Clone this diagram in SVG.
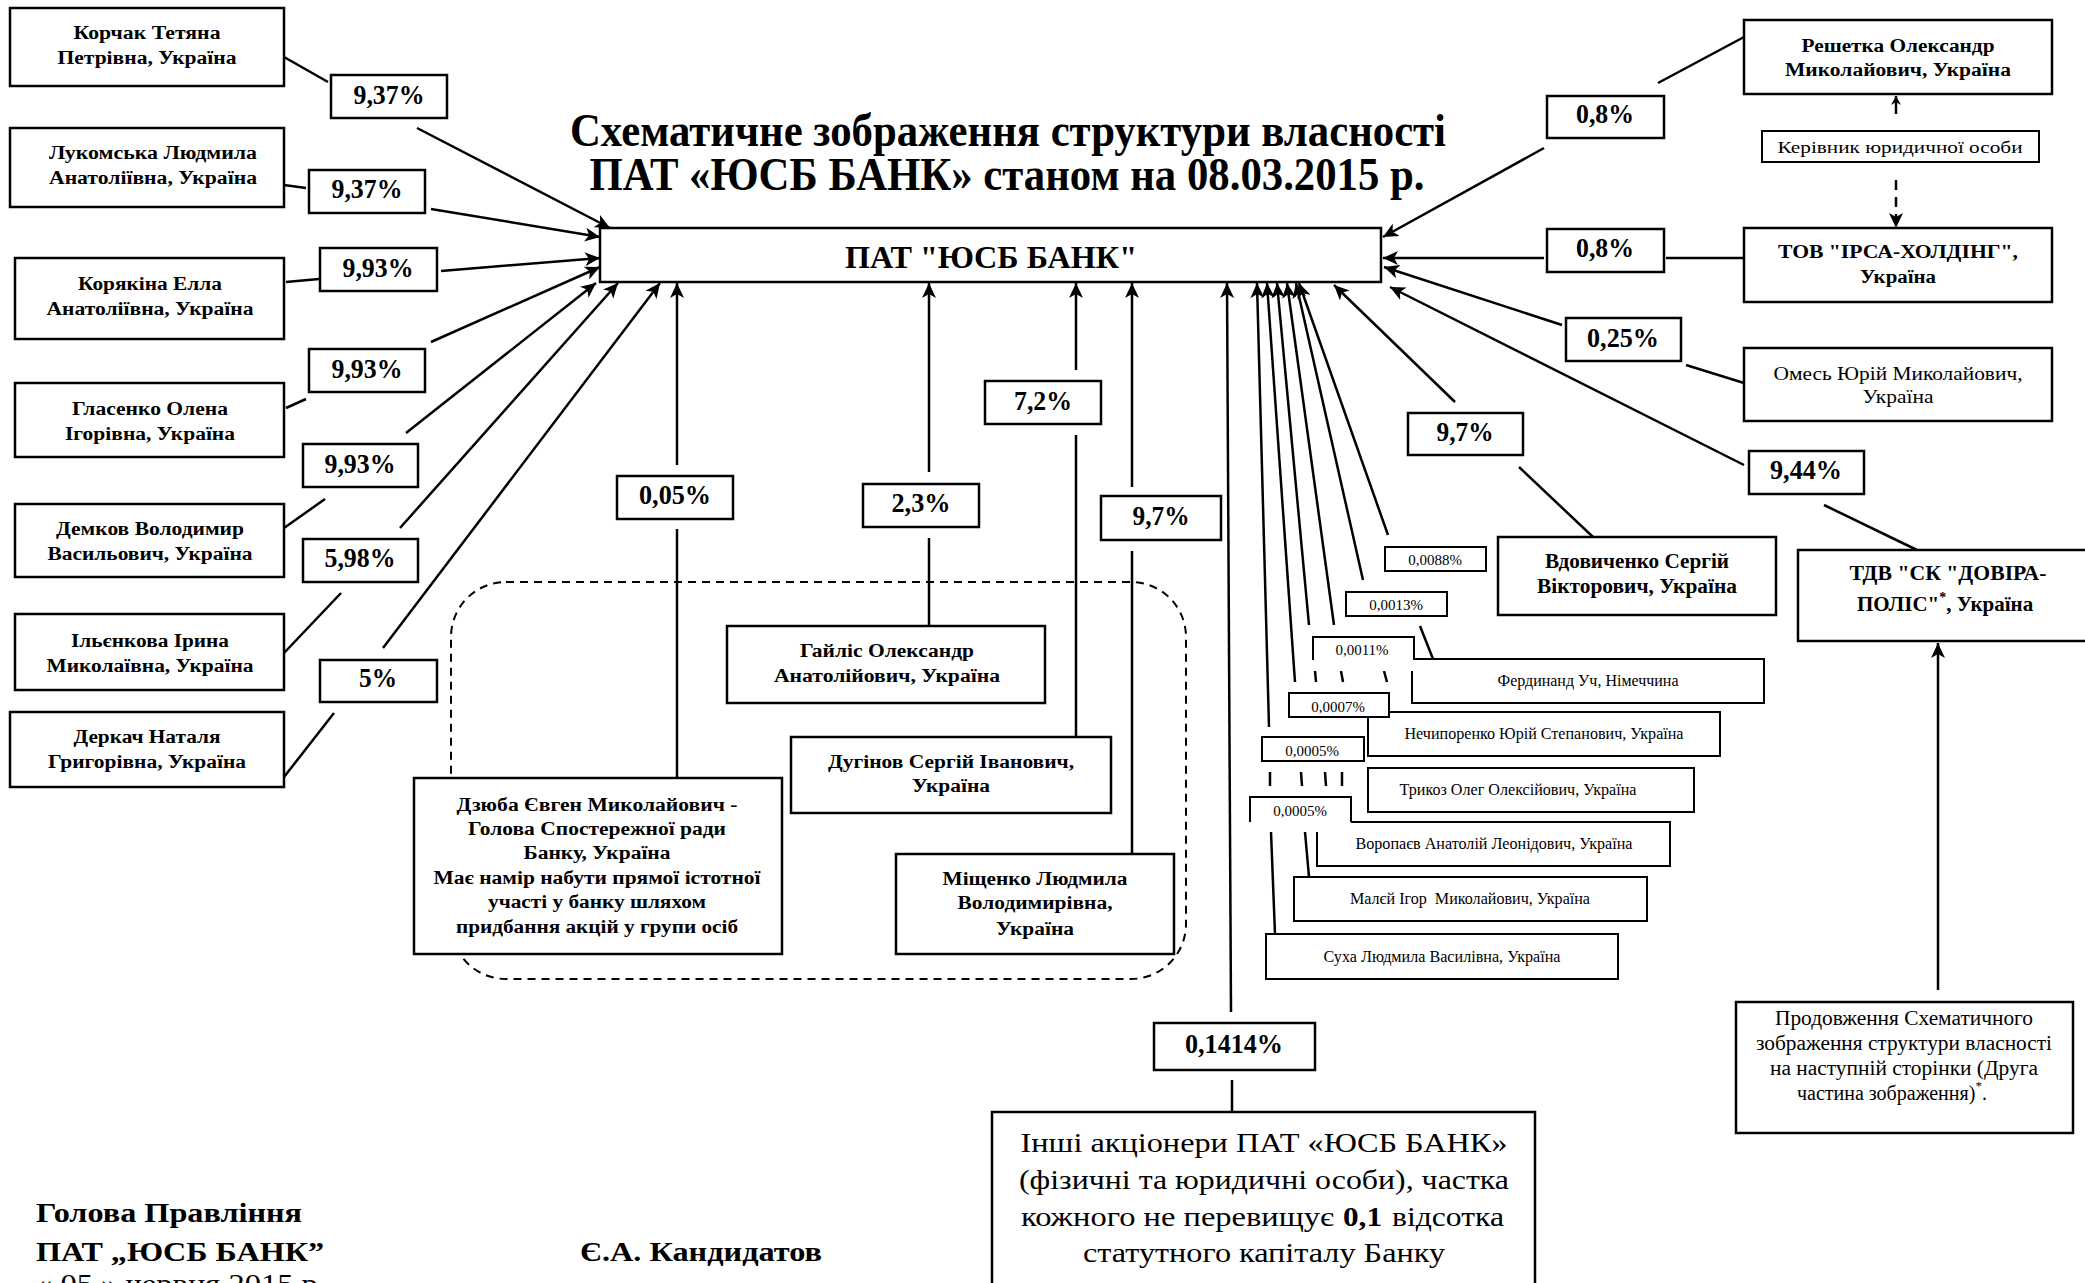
<svg xmlns="http://www.w3.org/2000/svg" width="2085" height="1283" viewBox="0 0 2085 1283">
<style>
text{font-family:"Liberation Serif","Times New Roman",serif;fill:#000}
.b{font-weight:bold}
.c{text-anchor:middle}
.box{fill:#fff;stroke:#000;stroke-width:2.5}
.sb{fill:#fff;stroke:#000;stroke-width:2}
.ln line,.ln path{stroke:#000;stroke-width:2.5;fill:none}
.p{font-size:27px;font-weight:bold;text-anchor:middle}
.n{font-size:18px;font-weight:bold;text-anchor:middle}
.s{font-size:15px;text-anchor:middle}
.sp{font-size:16px;text-anchor:middle}
</style>
<defs>
<marker id="ah" markerUnits="userSpaceOnUse" markerWidth="16" markerHeight="14" refX="15" refY="7" orient="auto"><path d="M0,0 L15,7 L0,14 L4,7 z" fill="#000"/></marker>
<marker id="as" markerUnits="userSpaceOnUse" markerWidth="10" markerHeight="10" refX="9" refY="5" orient="auto"><path d="M0,0 L9,5 L0,10 L3,5 z" fill="#000"/></marker>
</defs>
<rect width="2085" height="1283" fill="#fff"/>

<g id="title">
<text class="b c" x="1008" y="146" font-size="46" textLength="876" lengthAdjust="spacingAndGlyphs">Схематичне зображення структури власності</text>
<text class="b c" x="1007" y="190" font-size="46" textLength="835" lengthAdjust="spacingAndGlyphs">ПАТ «ЮСБ БАНК» станом на 08.03.2015 р.</text>
</g>

<g id="group-dashed">
<rect x="451" y="582" width="735" height="397" rx="55" ry="55" fill="none" stroke="#000" stroke-width="2" stroke-dasharray="8,6"/>
</g>

<g id="connectors" class="ln">
<line x1="284" y1="57" x2="328" y2="82"/>
<line x1="417" y1="128" x2="610" y2="228" marker-end="url(#ah)"/>
<line x1="284" y1="185" x2="306" y2="188"/>
<line x1="431" y1="209" x2="600" y2="237" marker-end="url(#ah)"/>
<line x1="286" y1="282" x2="319" y2="279"/>
<line x1="441" y1="271" x2="600" y2="258" marker-end="url(#ah)"/>
<line x1="286" y1="408" x2="306" y2="399"/>
<line x1="431" y1="342" x2="600" y2="267" marker-end="url(#ah)"/>
<line x1="284" y1="528" x2="325" y2="499"/>
<line x1="406" y1="433" x2="596" y2="283" marker-end="url(#ah)"/>
<line x1="284" y1="653" x2="341" y2="593"/>
<line x1="400" y1="528" x2="618" y2="283" marker-end="url(#ah)"/>
<line x1="284" y1="777" x2="334" y2="713"/>
<line x1="383" y1="648" x2="660" y2="283" marker-end="url(#ah)"/>

<line x1="677" y1="465" x2="677" y2="283" marker-end="url(#ah)"/>
<line x1="677" y1="529" x2="677" y2="778"/>
<line x1="929" y1="472" x2="929" y2="283" marker-end="url(#ah)"/>
<line x1="929" y1="538" x2="929" y2="626"/>
<line x1="1076" y1="370" x2="1076" y2="283" marker-end="url(#ah)"/>
<line x1="1076" y1="435" x2="1076" y2="737"/>
<line x1="1132" y1="487" x2="1132" y2="283" marker-end="url(#ah)"/>
<line x1="1132" y1="551" x2="1132" y2="854"/>
<line x1="1231" y1="1012" x2="1227" y2="283" marker-end="url(#ah)"/>
<line x1="1232" y1="1080" x2="1232" y2="1112"/>

<line x1="1388" y1="535" x2="1299" y2="283" marker-end="url(#ah)"/>
<line x1="1363" y1="580" x2="1296" y2="283" marker-end="url(#ah)"/>
<line x1="1334" y1="625" x2="1287" y2="283" marker-end="url(#ah)"/>
<line x1="1309" y1="625" x2="1277" y2="283" marker-end="url(#ah)"/>
<line x1="1295" y1="682" x2="1267" y2="283" marker-end="url(#ah)"/>
<line x1="1269" y1="727" x2="1257" y2="283" marker-end="url(#ah)"/>
<line x1="1420" y1="626" x2="1433" y2="659"/>
<line x1="1315" y1="671" x2="1316" y2="682"/>
<line x1="1341" y1="671" x2="1343" y2="682"/>
<line x1="1384" y1="671" x2="1387" y2="682"/>
<line x1="1270" y1="772" x2="1270" y2="786"/>
<line x1="1301" y1="772" x2="1302" y2="786"/>
<line x1="1325" y1="772" x2="1326" y2="786"/>
<line x1="1342" y1="772" x2="1342" y2="786"/>
<line x1="1271" y1="832" x2="1275" y2="934"/>
<line x1="1305" y1="832" x2="1309" y2="877"/>

<line x1="1744" y1="37" x2="1658" y2="83"/>
<line x1="1544" y1="148" x2="1383" y2="237" marker-end="url(#ah)"/>
<line x1="1744" y1="258" x2="1666" y2="258"/>
<line x1="1544" y1="258" x2="1383" y2="258" marker-end="url(#ah)"/>
<line x1="1562" y1="325" x2="1384" y2="267" marker-end="url(#ah)"/>
<line x1="1686" y1="365" x2="1744" y2="383"/>
<line x1="1744" y1="465" x2="1390" y2="287" marker-end="url(#ah)"/>
<line x1="1824" y1="505" x2="1917" y2="550"/>
<line x1="1455" y1="402" x2="1334" y2="285" marker-end="url(#ah)"/>
<line x1="1519" y1="467" x2="1593" y2="537"/>
<line x1="1938" y1="990" x2="1938" y2="643" marker-end="url(#ah)"/>
<line x1="1896" y1="114" x2="1896" y2="96" marker-end="url(#as)"/>
<line x1="1896" y1="180" x2="1896" y2="228" stroke-dasharray="10,7" marker-end="url(#ah)"/>
</g>

<g id="bank"><rect class="box" x="600" y="228" width="781" height="54"/>
<text class="b c" x="991" y="268" font-size="32" textLength="292" lengthAdjust="spacingAndGlyphs">ПАТ "ЮСБ БАНК"</text></g>

<g id="korchak"><rect class="box" x="10" y="8" width="274" height="78"/>
<text class="n" x="147" y="39" textLength="147" lengthAdjust="spacingAndGlyphs">Корчак Тетяна</text>
<text class="n" x="147" y="64" textLength="179" lengthAdjust="spacingAndGlyphs">Петрівна, Україна</text></g>
<g id="lukomska"><rect class="box" x="10" y="128" width="274" height="79"/>
<text class="n" x="153" y="159" textLength="208" lengthAdjust="spacingAndGlyphs">Лукомська Людмила</text>
<text class="n" x="153" y="184" textLength="208" lengthAdjust="spacingAndGlyphs">Анатоліївна, Україна</text></g>
<g id="koriakina"><rect class="box" x="15" y="258" width="269" height="81"/>
<text class="n" x="150" y="290" textLength="144" lengthAdjust="spacingAndGlyphs">Корякіна Елла</text>
<text class="n" x="150" y="315" textLength="207" lengthAdjust="spacingAndGlyphs">Анатоліївна, Україна</text></g>
<g id="hlasenko"><rect class="box" x="15" y="383" width="269" height="74"/>
<text class="n" x="150" y="415" textLength="156" lengthAdjust="spacingAndGlyphs">Гласенко Олена</text>
<text class="n" x="150" y="440" textLength="170" lengthAdjust="spacingAndGlyphs">Ігорівна, Україна</text></g>
<g id="demkov"><rect class="box" x="15" y="504" width="269" height="73"/>
<text class="n" x="150" y="535" textLength="188" lengthAdjust="spacingAndGlyphs">Демков Володимир</text>
<text class="n" x="150" y="560" textLength="205" lengthAdjust="spacingAndGlyphs">Васильович, Україна</text></g>
<g id="ilienkova"><rect class="box" x="15" y="614" width="269" height="76"/>
<text class="n" x="150" y="647" textLength="158" lengthAdjust="spacingAndGlyphs">Ільєнкова Ірина</text>
<text class="n" x="150" y="672" textLength="207" lengthAdjust="spacingAndGlyphs">Миколаївна, Україна</text></g>
<g id="derkach"><rect class="box" x="10" y="712" width="274" height="75"/>
<text class="n" x="147" y="743" textLength="147" lengthAdjust="spacingAndGlyphs">Деркач Наталя</text>
<text class="n" x="147" y="768" textLength="198" lengthAdjust="spacingAndGlyphs">Григорівна, Україна</text></g>

<g id="l-937a"><rect class="box" x="331" y="75" width="116" height="43"/><text class="p" x="389" y="104" textLength="71" lengthAdjust="spacingAndGlyphs">9,37%</text></g>
<g id="l-937b"><rect class="box" x="309" y="170" width="116" height="43"/><text class="p" x="367" y="198" textLength="71" lengthAdjust="spacingAndGlyphs">9,37%</text></g>
<g id="l-993a"><rect class="box" x="320" y="248" width="117" height="43"/><text class="p" x="378" y="277" textLength="71" lengthAdjust="spacingAndGlyphs">9,93%</text></g>
<g id="l-993b"><rect class="box" x="309" y="349" width="116" height="43"/><text class="p" x="367" y="378" textLength="71" lengthAdjust="spacingAndGlyphs">9,93%</text></g>
<g id="l-993c"><rect class="box" x="303" y="444" width="115" height="43"/><text class="p" x="360" y="473" textLength="71" lengthAdjust="spacingAndGlyphs">9,93%</text></g>
<g id="l-598"><rect class="box" x="303" y="539" width="115" height="43"/><text class="p" x="360" y="567" textLength="71" lengthAdjust="spacingAndGlyphs">5,98%</text></g>
<g id="l-5"><rect class="box" x="320" y="660" width="117" height="42"/><text class="p" x="378" y="687" textLength="38" lengthAdjust="spacingAndGlyphs">5%</text></g>
<g id="l-005"><rect class="box" x="617" y="476" width="116" height="43"/><text class="p" x="675" y="504" textLength="72" lengthAdjust="spacingAndGlyphs">0,05%</text></g>
<g id="l-23"><rect class="box" x="863" y="484" width="116" height="43"/><text class="p" x="921" y="512" textLength="59" lengthAdjust="spacingAndGlyphs">2,3%</text></g>
<g id="l-72"><rect class="box" x="985" y="381" width="116" height="43"/><text class="p" x="1043" y="410" textLength="58" lengthAdjust="spacingAndGlyphs">7,2%</text></g>
<g id="l-97a"><rect class="box" x="1101" y="496" width="120" height="44"/><text class="p" x="1161" y="525" textLength="57" lengthAdjust="spacingAndGlyphs">9,7%</text></g>
<g id="l-08a"><rect class="box" x="1547" y="96" width="117" height="42"/><text class="p" x="1605" y="123" textLength="58" lengthAdjust="spacingAndGlyphs">0,8%</text></g>
<g id="l-08b"><rect class="box" x="1547" y="229" width="117" height="43"/><text class="p" x="1605" y="257" textLength="58" lengthAdjust="spacingAndGlyphs">0,8%</text></g>
<g id="l-025"><rect class="box" x="1566" y="318" width="115" height="43"/><text class="p" x="1623" y="347" textLength="72" lengthAdjust="spacingAndGlyphs">0,25%</text></g>
<g id="l-944"><rect class="box" x="1749" y="451" width="115" height="43"/><text class="p" x="1806" y="479" textLength="72" lengthAdjust="spacingAndGlyphs">9,44%</text></g>
<g id="l-97b"><rect class="box" x="1408" y="413" width="115" height="42"/><text class="p" x="1465" y="441" textLength="57" lengthAdjust="spacingAndGlyphs">9,7%</text></g>
<g id="l-01414"><rect class="box" x="1154" y="1023" width="161" height="47"/><text class="p" x="1234" y="1053" textLength="98" lengthAdjust="spacingAndGlyphs">0,1414%</text></g>

<g id="haylis"><rect class="box" x="727" y="626" width="318" height="77"/>
<text class="n" x="887" y="657" textLength="174" lengthAdjust="spacingAndGlyphs">Гайліс Олександр</text>
<text class="n" x="887" y="682" textLength="226" lengthAdjust="spacingAndGlyphs">Анатолійович, Україна</text></g>
<g id="duhinov"><rect class="box" x="791" y="737" width="320" height="76"/>
<text class="n" x="951" y="768" textLength="246" lengthAdjust="spacingAndGlyphs">Дугінов Сергій Іванович,</text>
<text class="n" x="951" y="792" textLength="78" lengthAdjust="spacingAndGlyphs">Україна</text></g>
<g id="mishchenko"><rect class="box" x="896" y="854" width="278" height="100"/>
<text class="n" x="1035" y="885" textLength="185" lengthAdjust="spacingAndGlyphs">Міщенко Людмила</text>
<text class="n" x="1035" y="909" textLength="155" lengthAdjust="spacingAndGlyphs">Володимирівна,</text>
<text class="n" x="1035" y="935" textLength="78" lengthAdjust="spacingAndGlyphs">Україна</text></g>
<g id="dziuba"><rect class="box" x="414" y="778" width="368" height="176"/>
<text class="n" x="597" y="811" textLength="281" lengthAdjust="spacingAndGlyphs">Дзюба Євген Миколайович -</text>
<text class="n" x="597" y="835" textLength="258" lengthAdjust="spacingAndGlyphs">Голова Спостережної ради</text>
<text class="n" x="597" y="859" textLength="147" lengthAdjust="spacingAndGlyphs">Банку, Україна</text>
<text class="n" x="597" y="884" textLength="327" lengthAdjust="spacingAndGlyphs">Має намір набути прямої істотної</text>
<text class="n" x="597" y="908" textLength="218" lengthAdjust="spacingAndGlyphs">участі у банку шляхом</text>
<text class="n" x="597" y="933" textLength="282" lengthAdjust="spacingAndGlyphs">придбання акцій у групи осіб</text></g>

<g id="reshetka"><rect class="box" x="1744" y="20" width="308" height="74"/>
<text class="n" x="1898" y="52" textLength="193" lengthAdjust="spacingAndGlyphs">Решетка Олександр</text>
<text class="n" x="1898" y="76" textLength="226" lengthAdjust="spacingAndGlyphs">Миколайович, Україна</text></g>
<g id="kerivnyk"><rect class="sb" x="1762" y="131" width="277" height="31"/>
<text class="c" x="1900" y="153" font-size="17" textLength="245" lengthAdjust="spacingAndGlyphs">Керівник юридичної особи</text></g>
<g id="irsa"><rect class="box" x="1744" y="228" width="308" height="74"/>
<text class="n" x="1898" y="258" textLength="240" lengthAdjust="spacingAndGlyphs">ТОВ "ІРСА-ХОЛДІНГ",</text>
<text class="n" x="1898" y="283" textLength="76" lengthAdjust="spacingAndGlyphs">Україна</text></g>
<g id="omes"><rect class="box" x="1744" y="348" width="308" height="73"/>
<text class="c" x="1898" y="380" font-size="18" textLength="249" lengthAdjust="spacingAndGlyphs">Омесь Юрій Миколайович,</text>
<text class="c" x="1898" y="403" font-size="18" textLength="71" lengthAdjust="spacingAndGlyphs">Україна</text></g>
<g id="vdovychenko"><rect class="box" x="1498" y="537" width="278" height="78"/>
<text class="b c" x="1637" y="568" font-size="20" textLength="184" lengthAdjust="spacingAndGlyphs">Вдовиченко Сергій</text>
<text class="b c" x="1637" y="593" font-size="20" textLength="200" lengthAdjust="spacingAndGlyphs">Вікторович, Україна</text></g>
<g id="dovira"><rect class="box" x="1798" y="550" width="300" height="91"/>
<text class="b c" x="1948" y="580" font-size="21" textLength="197" lengthAdjust="spacingAndGlyphs">ТДВ "СК "ДОВІРА-</text>
<text class="b" x="1857" y="611" font-size="21">ПОЛІС"<tspan font-size="14" dy="-9">*</tspan><tspan dy="9">, Україна</tspan></text></g>
<g id="continuation"><rect class="box" x="1736" y="1002" width="337" height="131"/>
<text class="c" x="1904" y="1025" font-size="20" textLength="258" lengthAdjust="spacingAndGlyphs">Продовження Схематичного</text>
<text class="c" x="1904" y="1050" font-size="20" textLength="296" lengthAdjust="spacingAndGlyphs">зображення структури власності</text>
<text class="c" x="1904" y="1075" font-size="20" textLength="268" lengthAdjust="spacingAndGlyphs">на наступній сторінки (Друга</text>
<text x="1797" y="1100" font-size="20">частина зображення)<tspan font-size="13" dy="-10">*</tspan><tspan dy="10">.</tspan></text></g>

<g id="small-labels">
<rect class="sb" x="1385" y="547" width="101" height="24"/><text class="s" x="1435" y="565">0,0088%</text>
<rect class="sb" x="1346" y="592" width="101" height="24"/><text class="s" x="1396" y="610">0,0013%</text>
<rect class="sb" x="1262" y="737" width="102" height="24"/><text class="s" x="1312" y="756">0,0005%</text>
</g>
<g id="ferdinand"><rect class="sb" x="1412" y="659" width="352" height="44"/><text class="sp" x="1588" y="686" textLength="181" lengthAdjust="spacingAndGlyphs">Фердинанд Уч, Німеччина</text></g>
<g id="l-00011"><rect x="1313" y="637" width="101" height="34" fill="#fff"/><path d="M1313,660 V637 H1414 V660" fill="none" stroke="#000" stroke-width="2"/><text class="s" x="1362" y="655">0,0011%</text></g>
<g id="nechyporenko"><rect class="sb" x="1368" y="712" width="352" height="44"/><text class="sp" x="1544" y="739" textLength="279" lengthAdjust="spacingAndGlyphs">Нечипоренко Юрій Степанович, Україна</text></g>
<g id="l-00007"><rect class="sb" x="1289" y="693" width="100" height="24"/><text class="s" x="1338" y="712">0,0007%</text></g>
<g id="trykoz"><rect class="sb" x="1368" y="768" width="326" height="44"/><text class="sp" x="1518" y="795" textLength="237" lengthAdjust="spacingAndGlyphs">Трикоз Олег Олексійович, Україна</text></g>
<g id="voropaiev"><rect class="sb" x="1317" y="822" width="353" height="44"/><text class="sp" x="1494" y="849" textLength="277" lengthAdjust="spacingAndGlyphs">Воропаєв Анатолій Леонідович, Україна</text></g>
<g id="l-00005b"><rect x="1250" y="797" width="101" height="35" fill="#fff"/><path d="M1250,822 V797 H1351 V822" fill="none" stroke="#000" stroke-width="2"/><text class="s" x="1300" y="816">0,0005%</text></g>
<g id="malei"><rect class="sb" x="1294" y="877" width="353" height="44"/><text class="sp" x="1470" y="904" textLength="240" lengthAdjust="spacingAndGlyphs">Малєй Ігор&#160; Миколайович, Україна</text></g>
<g id="sukha"><rect class="sb" x="1266" y="934" width="352" height="45"/><text class="sp" x="1442" y="962" textLength="237" lengthAdjust="spacingAndGlyphs">Суха Людмила Василівна, Україна</text></g>

<g id="others"><rect class="box" x="992" y="1112" width="543" height="200"/>
<text class="c" x="1264" y="1152" font-size="28" textLength="487" lengthAdjust="spacingAndGlyphs">Інші акціонери ПАТ «ЮСБ БАНК»</text>
<text class="c" x="1264" y="1189" font-size="28" textLength="490" lengthAdjust="spacingAndGlyphs">(фізичні та юридичні особи), частка</text>
<text x="1021" y="1226" font-size="28" textLength="313" lengthAdjust="spacingAndGlyphs">кожного не перевищує</text>
<text class="b" x="1343" y="1226" font-size="28" textLength="39" lengthAdjust="spacingAndGlyphs">0,1</text>
<text x="1392" y="1226" font-size="28" textLength="112" lengthAdjust="spacingAndGlyphs">відсотка</text>
<text class="c" x="1264" y="1262" font-size="28" textLength="362" lengthAdjust="spacingAndGlyphs">статутного капіталу Банку</text></g>

<g id="signature">
<text class="b" x="36" y="1222" font-size="28" textLength="266" lengthAdjust="spacingAndGlyphs">Голова Правління</text>
<text class="b" x="36" y="1261" font-size="28" textLength="288" lengthAdjust="spacingAndGlyphs">ПАТ „ЮСБ БАНК”</text>
<text class="b" x="580" y="1261" font-size="28" textLength="242" lengthAdjust="spacingAndGlyphs">Є.А. Кандидатов</text>
<text x="36" y="1293" font-size="28" textLength="290" lengthAdjust="spacingAndGlyphs">« 05 » червня 2015 р.</text>
</g>
</svg>
